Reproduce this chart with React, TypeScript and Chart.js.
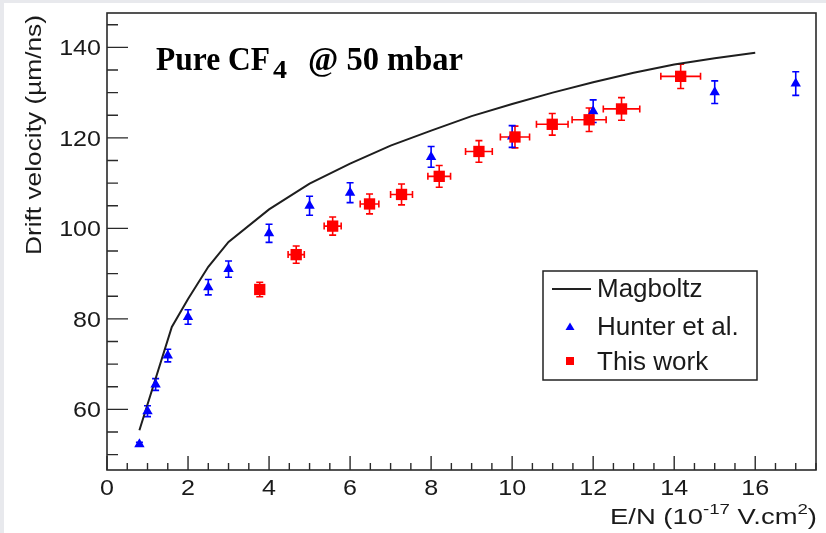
import { useEffect, useRef } from "react";
import { Chart, registerables } from "chart.js";

Chart.register(...registerables);

// ---------- data ----------
const magboltzE = [0.8, 1.6, 2.0, 2.5, 3, 4, 5, 6, 7, 8, 9, 10, 11, 12, 13, 14, 15, 16];
const magboltzV = [55.4, 78.2, 84.4, 91.5, 97.0, 104.2, 109.9, 114.3, 118.3, 121.6, 124.8, 127.5, 130.0, 132.3, 134.4, 136.2, 137.6, 138.8];

const hunterE = [0.8, 1.0, 1.2, 1.5, 2.0, 2.5, 3.0, 4.0, 5.0, 6.0, 8.0, 10.0, 12.0, 15.0, 17.0];
const hunterV = [52.3, 59.6, 65.5, 71.9, 80.4, 87.0, 91.0, 98.9, 105.0, 107.9, 115.8, 120.3, 125.9, 130.1, 132.0];
const hunterErrV = [0.4, 1.2, 1.3, 1.4, 1.6, 1.7, 1.8, 2.0, 2.1, 2.2, 2.3, 2.4, 2.5, 2.5, 2.6];

const workE = [3.77, 4.67, 5.57, 6.48, 7.27, 8.2, 9.18, 10.07, 10.99, 11.9, 12.7, 14.16];
const workV = [86.5, 94.2, 100.5, 105.4, 107.5, 111.5, 117.0, 120.2, 123.0, 124.0, 126.4, 133.6];
const workErrE = [0.08, 0.2, 0.21, 0.23, 0.27, 0.28, 0.33, 0.36, 0.39, 0.42, 0.45, 0.49];
const workErrV = [1.6, 1.9, 2.0, 2.2, 2.3, 2.4, 2.4, 2.4, 2.4, 2.6, 2.5, 2.7];

const xTickLabels = ["0", "2", "4", "6", "8", "10", "12", "14", "16"];
const yTickLabels = ["60", "80", "100", "120", "140"];
const legendLabels = ["Magboltz", "Hunter et al.", "This work"];

const titleMain = "Pure CF";
const titleSub = "4";
const titleRest = "@ 50 mbar";
const yTitle = "Drift velocity (\u00b5m/ns)";
const xTitleParts = ["E/N (10", "-17", " V.cm", "2", ")"];

const SANS = '"Liberation Sans", Arial, sans-serif';
const SERIF = '"Liberation Serif", "Times New Roman", serif';

function drawScaled(ctx: CanvasRenderingContext2D, text: string, x: number, y: number, align: CanvasTextAlign, sx: number) {
  ctx.save();
  ctx.translate(x, y);
  ctx.scale(sx, 1);
  ctx.textAlign = align;
  ctx.textBaseline = "alphabetic";
  ctx.fillText(text, 0, 0);
  ctx.restore();
}

function drawFit(ctx: CanvasRenderingContext2D, text: string, x: number, y: number, width: number) {
  const w = ctx.measureText(text).width;
  drawScaled(ctx, text, x, y, "left", width / w);
}

const decorPlugin = {
  id: "decor",
  beforeDraw(chart: any) {
    const ctx: CanvasRenderingContext2D = chart.ctx;
    ctx.save();
    ctx.fillStyle = "#ffffff";
    ctx.fillRect(0, 0, chart.width, chart.height);
    ctx.fillStyle = "#e8e9ed";
    ctx.fillRect(0, 0, 4, chart.height);
    ctx.fillRect(0, 0, chart.width, 3);
    ctx.restore();
  },
  beforeDatasetsDraw(chart: any) {
    const ctx: CanvasRenderingContext2D = chart.ctx;
    const xs = chart.scales.x;
    const ys = chart.scales.y;
    const cap = 3.5;
    chart.data.datasets.forEach((ds: any) => {
      if (!ds.errV) return;
      ctx.save();
      ctx.strokeStyle = ds.backgroundColor;
      ctx.lineWidth = 1.6;
      ds.data.forEach((p: any, i: number) => {
        const px = xs.getPixelForValue(p.x);
        const py = ys.getPixelForValue(p.y);
        const ev = ds.errV[i];
        const top = ys.getPixelForValue(p.y + ev);
        const bot = ys.getPixelForValue(p.y - ev);
        ctx.beginPath();
        ctx.moveTo(px, top);
        ctx.lineTo(px, bot);
        ctx.moveTo(px - cap, top);
        ctx.lineTo(px + cap, top);
        ctx.moveTo(px - cap, bot);
        ctx.lineTo(px + cap, bot);
        if (ds.errE) {
          const l = xs.getPixelForValue(p.x - ds.errE[i]);
          const r = xs.getPixelForValue(p.x + ds.errE[i]);
          ctx.moveTo(l, py);
          ctx.lineTo(r, py);
          ctx.moveTo(l, py - cap);
          ctx.lineTo(l, py + cap);
          ctx.moveTo(r, py - cap);
          ctx.lineTo(r, py + cap);
        }
        ctx.stroke();
      });
      ctx.restore();
    });
  },
  afterDraw(chart: any) {
    const ctx: CanvasRenderingContext2D = chart.ctx;
    const a = chart.chartArea;
    const xs = chart.scales.x;
    const ys = chart.scales.y;
    ctx.save();
    // frame
    ctx.strokeStyle = "#2a2a2a";
    ctx.lineWidth = 1.6;
    ctx.strokeRect(a.left, a.top, a.right - a.left, a.bottom - a.top);

    // ticks
    ctx.lineWidth = 1.4;
    ctx.beginPath();
    for (let v = 0; v <= 17.5 + 1e-6; v += 0.5) {
      const px = xs.getPixelForValue(v);
      const major = Math.abs(v / 2 - Math.round(v / 2)) < 1e-6;
      const len = major ? 14 : 7;
      ctx.moveTo(px, a.bottom);
      ctx.lineTo(px, a.bottom - len);
    }
    for (let v = 50; v <= 145 + 1e-6; v += 5) {
      const py = ys.getPixelForValue(v);
      const major = v % 20 === 0;
      const len = major ? 21 : 11;
      ctx.moveTo(a.left, py);
      ctx.lineTo(a.left + len, py);
    }
    ctx.stroke();

    // tick labels
    ctx.fillStyle = "#1a1a1a";
    ctx.font = `22px ${SANS}`;
    xTickLabels.forEach((t) => {
      drawScaled(ctx, t, xs.getPixelForValue(Number(t)), 495, "center", 1.14);
    });
    yTickLabels.forEach((t) => {
      drawScaled(ctx, t, 101, ys.getPixelForValue(Number(t)) + 8, "right", 1.14);
    });

    // y title
    ctx.save();
    ctx.translate(41, 255);
    ctx.rotate(-Math.PI / 2);
    ctx.font = `22px ${SANS}`;
    drawFit(ctx, yTitle, 0, 0, 240);
    ctx.restore();

    // x title (right aligned, with superscripts)
    const sizes = [22, 15, 22, 15, 22];
    const rises = [0, 10, 0, 10, 0];
    let natural = 0;
    const widths = xTitleParts.map((t, i) => {
      ctx.font = `${sizes[i]}px ${SANS}`;
      const w = ctx.measureText(t).width;
      natural += w;
      return w;
    });
    const targetW = 207;
    const sx = targetW / natural;
    let cx = 817 - targetW;
    xTitleParts.forEach((t, i) => {
      ctx.font = `${sizes[i]}px ${SANS}`;
      drawScaled(ctx, t, cx, 524 - rises[i], "left", sx);
      cx += widths[i] * sx;
    });

    // title
    ctx.fillStyle = "#000000";
    ctx.font = `bold 34px ${SERIF}`;
    drawFit(ctx, titleMain, 156, 70, 114);
    ctx.font = `bold 26px ${SERIF}`;
    drawFit(ctx, titleSub, 273, 78, 14);
    ctx.font = `bold 34px ${SERIF}`;
    drawFit(ctx, titleRest, 308, 70, 155);

    // legend
    ctx.strokeStyle = "#222222";
    ctx.lineWidth = 1.5;
    ctx.fillStyle = "#ffffff";
    ctx.fillRect(543, 271, 214, 109);
    ctx.strokeRect(543, 271, 214, 109);
    ctx.lineWidth = 2;
    ctx.beginPath();
    ctx.moveTo(552, 289);
    ctx.lineTo(591, 289);
    ctx.stroke();
    ctx.fillStyle = "#0000ff";
    ctx.beginPath();
    ctx.moveTo(570, 322.5);
    ctx.lineTo(574.5, 330);
    ctx.lineTo(565.5, 330);
    ctx.closePath();
    ctx.fill();
    ctx.fillStyle = "#ff0000";
    ctx.fillRect(566, 357, 8, 8);
    ctx.fillStyle = "#1a1a1a";
    ctx.font = `26px ${SANS}`;
    const baselines = [296.5, 335, 370];
    legendLabels.forEach((t, i) => {
      drawScaled(ctx, t, 597, baselines[i], "left", 1.0);
    });
    ctx.restore();
  },
};

export default function App() {
  const canvasRef = useRef<HTMLCanvasElement | null>(null);

  useEffect(() => {
    const canvas = canvasRef.current;
    if (!canvas) return;
    const chart = new Chart(canvas, {
      type: "scatter",
      data: {
        datasets: [
          {
            label: legendLabels[2],
            data: workE.map((x, i) => ({ x, y: workV[i] })),
            pointStyle: "rect",
            pointRadius: 8,
            pointBorderWidth: 0,
            backgroundColor: "#ff0000",
            borderColor: "#ff0000",
            showLine: false,
            errV: workErrV,
            errE: workErrE,
            order: 1,
          } as any,
          {
            label: legendLabels[1],
            data: hunterE.map((x, i) => ({ x, y: hunterV[i] })),
            pointStyle: "triangle",
            pointRadius: 6,
            pointBorderWidth: 0,
            backgroundColor: "#0000ff",
            borderColor: "#0000ff",
            showLine: false,
            errV: hunterErrV,
            order: 2,
          } as any,
          {
            label: legendLabels[0],
            data: magboltzE.map((x, i) => ({ x, y: magboltzV[i] })),
            showLine: true,
            pointRadius: 0,
            borderColor: "#1e1e1e",
            borderWidth: 2,
            tension: 0,
            fill: false,
            order: 3,
          } as any,
        ],
      },
      options: {
        animation: false,
        responsive: false,
        devicePixelRatio: 1,
        layout: { padding: { left: 107, top: 13, right: 10, bottom: 63 } },
        plugins: {
          legend: { display: false },
          tooltip: { enabled: false },
          title: { display: false },
        },
        events: [],
        scales: {
          x: { type: "linear", min: 0, max: 17.5, display: false },
          y: { type: "linear", min: 46.6, max: 147.6, display: false },
        },
      },
      plugins: [decorPlugin],
    });
    return () => chart.destroy();
  }, []);

  return (
    <div style={{ position: "absolute", left: 0, top: 0, width: 826, height: 533, overflow: "hidden" }}>
      <canvas ref={canvasRef} width={826} height={533} style={{ display: "block" }} />
    </div>
  );
}
